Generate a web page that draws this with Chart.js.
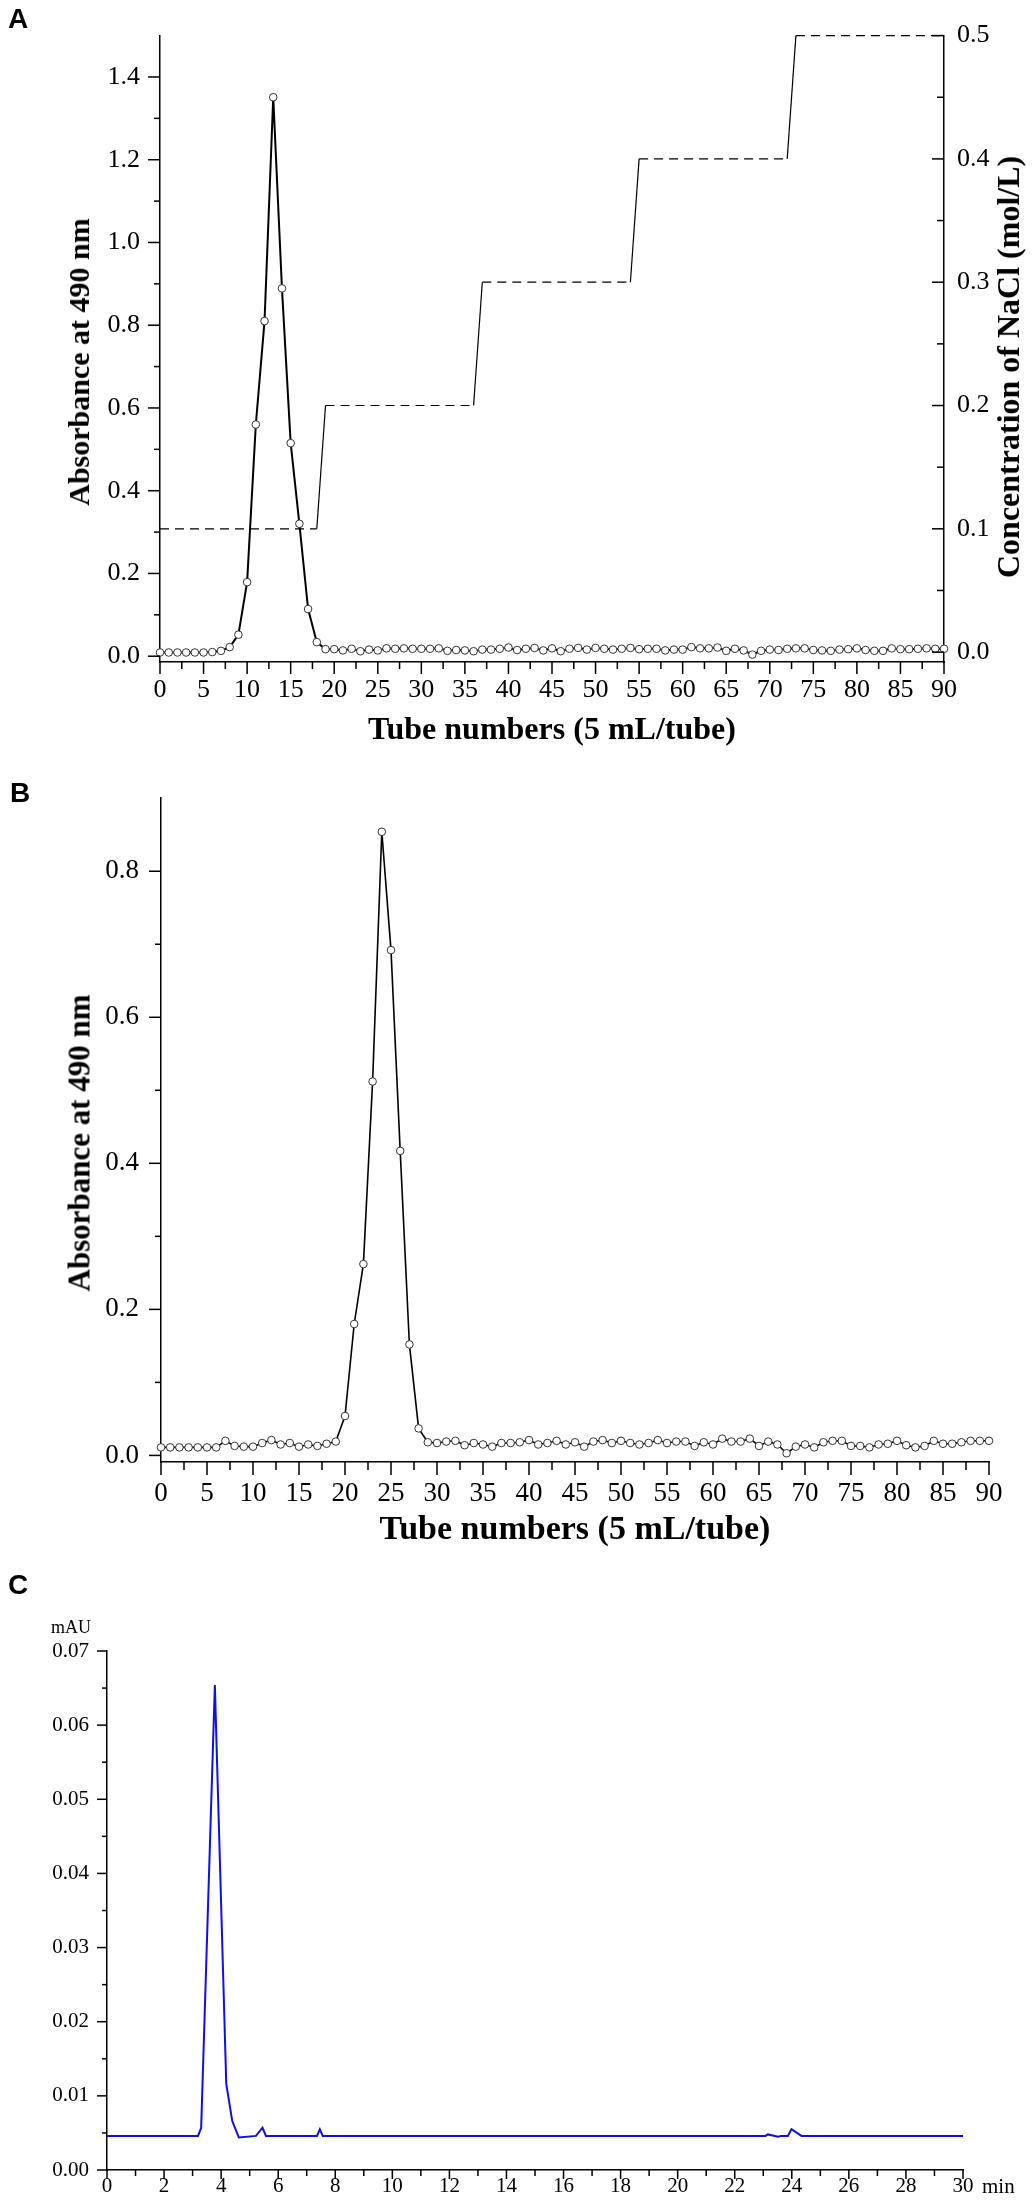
<!DOCTYPE html>
<html>
<head>
<meta charset="utf-8">
<script src="https://cdn.jsdelivr.net/npm/chart.js@4.4.1/dist/chart.umd.min.js"></script>
<style>
  html, body { margin: 0; padding: 0; background: #fff; }
  #page { position: relative; width: 1034px; height: 2202px; overflow: hidden; background: #fff; }
  .panel { position: absolute; left: 0; width: 1034px; }
  .letter { position: absolute; font: bold 28px 'Liberation Sans', Arial, sans-serif; line-height: 1; color: #000; }
  .vtitle { position: absolute; font-family: 'Liberation Serif', 'Times New Roman', serif; font-weight: bold; white-space: nowrap;
            transform: translate(-50%, -50%) rotate(-90deg); color: #000; line-height: 1; }
  .small { position: absolute; font: 21px 'Liberation Serif', 'Times New Roman', serif; color: #000; line-height: 1; white-space: nowrap; }
</style>
</head>
<body>
<div id="page">
  <div class="panel" style="top:0;height:760px;"><canvas id="cA"></canvas></div>
  <div class="panel" style="top:760px;height:800px;"><canvas id="cB"></canvas></div>
  <div class="panel" style="top:1560px;height:642px;"><canvas id="cC"></canvas></div>
  <div class="letter" style="left:8px;top:5px;">A</div>
  <div class="letter" style="left:10px;top:779px;">B</div>
  <div class="letter" style="left:8px;top:1571px;">C</div>
  <div class="vtitle" style="left:79px;top:362px;font-size:30px;">Absorbance at 490 nm</div>
  <div class="vtitle" style="left:1008px;top:367px;font-size:32px;">Concentration of NaCl (mol/L)</div>
  <div class="vtitle" style="left:79px;top:1143px;font-size:31px;">Absorbance at 490 nm</div>
  <div class="small" style="left:51px;top:1618px;font-size:18px;">mAU</div>
  <div class="small" style="left:982px;top:2176px;">min</div>
</div>
<script>
// ---------------- DATA ----------------
const tubes = [0,1,2,3,4,5,6,7,8,9,10,11,12,13,14,15,16,17,18,19,20,21,22,23,24,25,26,27,28,29,30,
  31,32,33,34,35,36,37,38,39,40,41,42,43,44,45,46,47,48,49,50,51,52,53,54,55,56,57,58,59,60,
  61,62,63,64,65,66,67,68,69,70,71,72,73,74,75,76,77,78,79,80,81,82,83,84,85,86,87,88,89,90];

const absorbanceA = [0.009,0.009,0.009,0.009,0.009,0.009,0.010,0.013,0.022,0.052,
  0.179,0.560,0.810,1.351,0.889,0.515,0.320,0.114,0.034,0.017,
  0.017,0.014,0.018,0.012,0.016,0.014,0.019,0.018,0.019,0.018,
  0.018,0.018,0.019,0.013,0.015,0.014,0.012,0.016,0.016,0.018,
  0.021,0.015,0.018,0.020,0.014,0.019,0.012,0.018,0.020,0.016,
  0.020,0.018,0.016,0.018,0.020,0.017,0.018,0.018,0.014,0.016,
  0.016,0.022,0.019,0.019,0.021,0.013,0.018,0.014,0.004,0.013,
  0.016,0.015,0.018,0.019,0.019,0.015,0.014,0.013,0.016,0.017,
  0.019,0.015,0.013,0.013,0.019,0.017,0.017,0.018,0.019,0.018,0.018];

const naclTube = [0, 18, 19, 36, 37, 54, 55, 72, 73, 90];
const naclConc = [0.1, 0.1, 0.2, 0.2, 0.3, 0.3, 0.4, 0.4, 0.5, 0.5];

const absorbanceB = [0.011,0.011,0.011,0.011,0.011,0.011,0.011,0.020,0.013,0.012,
  0.012,0.017,0.021,0.015,0.017,0.012,0.015,0.013,0.016,0.019,
  0.054,0.180,0.262,0.512,0.854,0.692,0.417,0.152,0.037,0.018,
  0.017,0.019,0.020,0.014,0.017,0.015,0.012,0.017,0.017,0.018,
  0.021,0.015,0.017,0.020,0.015,0.018,0.012,0.019,0.021,0.017,
  0.020,0.017,0.015,0.017,0.021,0.017,0.019,0.019,0.013,0.018,
  0.015,0.023,0.019,0.019,0.023,0.013,0.019,0.015,0.003,0.012,
  0.015,0.011,0.018,0.020,0.020,0.013,0.013,0.011,0.015,0.016,
  0.020,0.014,0.011,0.013,0.020,0.016,0.016,0.018,0.020,0.020,0.020];

const hplcTime   = [0, 3.19, 3.30, 3.78, 4.18, 4.39, 4.62, 5.22, 5.45, 5.57, 7.36, 7.46, 7.56,
                    23.08, 23.16, 23.52, 23.62, 23.86, 23.99, 24.34, 30];
const hplcSignal = [0.0046, 0.0046, 0.0057, 0.0654, 0.0116, 0.0066, 0.0044, 0.0046, 0.0057, 0.0046, 0.0046, 0.0055, 0.0046,
                    0.0046, 0.0048, 0.0045, 0.0046, 0.0046, 0.0055, 0.0046, 0.0046];

// tick labels
const tubeTicks   = [0,5,10,15,20,25,30,35,40,45,50,55,60,65,70,75,80,85,90];
const absTicksA   = [0.0,0.2,0.4,0.6,0.8,1.0,1.2,1.4];
const naclTicks   = [0.0,0.1,0.2,0.3,0.4,0.5];
const absTicksB   = [0.0,0.2,0.4,0.6,0.8];
const timeTicks   = [0,2,4,6,8,10,12,14,16,18,20,22,24,26,28,30];
const mauTicks    = [0.00,0.01,0.02,0.03,0.04,0.05,0.06,0.07];

// ---------------- HELPERS ----------------
const SERIF = "'Liberation Serif', 'Times New Roman', serif";
const mids = arr => arr.slice(0, -1).map((v, i) => (v + arr[i + 1]) / 2);
const pts = (xs, ys) => xs.map((x, i) => ({ x: x, y: ys[i] }));
const serif = (size, weight) => ({ family: SERIF, size: size, weight: weight || 'normal', style: 'normal', lineHeight: 1.2 });

function makeTicks(marks) {
  return {
    id: 'tickMarks',
    afterDraw(chart) {
      const ctx = chart.ctx, a = chart.chartArea;
      ctx.save();
      ctx.strokeStyle = '#000';
      ctx.lineWidth = 1.5;
      marks.forEach(m => {
        const s = chart.scales[m.scale];
        [[m.major, m.majorLen], [m.minor, m.minorLen]].forEach(([vals, len]) => {
          vals.forEach(v => {
            const p = s.getPixelForValue(v);
            ctx.beginPath();
            if (m.side === 'bottom') { ctx.moveTo(p, a.bottom); ctx.lineTo(p, a.bottom + len); }
            else if (m.side === 'left') { ctx.moveTo(a.left, p); ctx.lineTo(a.left - len, p); }
            else { ctx.moveTo(a.right, p); ctx.lineTo(a.right - len, p); }
            ctx.stroke();
          });
        });
      });
      ctx.restore();
    }
  };
}

function setTicks(values) {
  return s => { s.ticks = values.map(v => ({ value: v })); };
}

const baseGrid = { display: true, drawOnChartArea: false, drawTicks: false };
const baseBorder = { display: true, color: '#000', width: 1.5 };

Chart.defaults.font.family = SERIF;
Chart.defaults.color = '#000';

// ---------------- PANEL A ----------------
new Chart(document.getElementById('cA'), {
  type: 'line',
  data: {
    datasets: [
      {
        data: pts(tubes, absorbanceA), yAxisID: 'y', xAxisID: 'x',
        borderColor: '#000', borderWidth: 2, tension: 0,
        pointRadius: 3.8, pointBackgroundColor: '#fff', pointBorderColor: '#333', pointBorderWidth: 1,
        clip: false, order: 0
      },
      {
        data: pts(naclTube, naclConc), yAxisID: 'y1', xAxisID: 'x',
        borderColor: '#000', borderWidth: 1.2, pointRadius: 0, tension: 0, order: 1, clip: false,
        segment: { borderDash: c => (c.p0.parsed.y === c.p1.parsed.y ? [9, 6] : []) }
      }
    ]
  },
  options: {
    responsive: true, maintainAspectRatio: false, animation: false,
    layout: { padding: { left: 0, right: 0, top: 23, bottom: 0 } },
    plugins: { legend: { display: false }, tooltip: { enabled: false } },
    scales: {
      x: {
        type: 'linear', position: 'bottom', min: 0, max: 90,
        afterBuildTicks: setTicks(tubeTicks),
        afterFit: s => { s.height = 98; },
        grid: baseGrid, border: baseBorder,
        ticks: { autoSkip: false, maxRotation: 0, padding: 13, color: '#000', font: serif(26), callback: v => String(v) },
        title: { display: true, text: 'Tube numbers (5 mL/tube)', color: '#000', font: serif(32, 'bold'), padding: { top: 0, bottom: 10 } }
      },
      y: {
        type: 'linear', position: 'left', min: -0.014, max: 1.5,
        afterBuildTicks: setTicks(absTicksA),
        afterFit: s => { s.width = 160; },
        grid: baseGrid, border: baseBorder,
        ticks: { padding: 20, color: '#000', font: serif(26), callback: v => v.toFixed(1) }
      },
      y1: {
        type: 'linear', position: 'right', min: -0.008, max: 0.5,
        afterBuildTicks: setTicks(naclTicks),
        afterFit: s => { s.width = 90; },
        grid: baseGrid, border: baseBorder,
        ticks: { padding: 13, color: '#000', font: serif(26), callback: v => v.toFixed(1) }
      }
    }
  },
  plugins: [makeTicks([
    { scale: 'x', side: 'bottom', major: tubeTicks, minor: mids(tubeTicks), majorLen: 12, minorLen: 7 },
    { scale: 'y', side: 'left', major: absTicksA, minor: mids(absTicksA), majorLen: 12, minorLen: 6 },
    { scale: 'y1', side: 'rightIn', major: naclTicks, minor: mids(naclTicks), majorLen: 12, minorLen: 7 }
  ])]
});

// ---------------- PANEL B ----------------
new Chart(document.getElementById('cB'), {
  type: 'line',
  data: {
    datasets: [{
      data: pts(tubes, absorbanceB),
      borderColor: '#000', borderWidth: 1.6, tension: 0,
      pointRadius: 3.8, pointBackgroundColor: '#fff', pointBorderColor: '#333', pointBorderWidth: 1,
      clip: false
    }]
  },
  options: {
    responsive: true, maintainAspectRatio: false, animation: false,
    layout: { padding: { left: 0, right: 45, top: 30, bottom: 0 } },
    plugins: { legend: { display: false }, tooltip: { enabled: false } },
    scales: {
      x: {
        type: 'linear', position: 'bottom', min: 0, max: 90,
        afterBuildTicks: setTicks(tubeTicks),
        afterFit: s => { s.height = 98; },
        grid: baseGrid, border: baseBorder,
        ticks: { autoSkip: false, maxRotation: 0, padding: 16, color: '#000', font: serif(27), callback: v => String(v) },
        title: { display: true, text: 'Tube numbers (5 mL/tube)', color: '#000', font: serif(34, 'bold'), padding: { top: 0, bottom: 9 } }
      },
      y: {
        type: 'linear', position: 'left', min: -0.009, max: 0.9,
        afterBuildTicks: setTicks(absTicksB),
        afterFit: s => { s.width = 161; },
        grid: baseGrid, border: baseBorder,
        ticks: { padding: 22, color: '#000', font: serif(27), callback: v => v.toFixed(1) }
      }
    }
  },
  plugins: [makeTicks([
    { scale: 'x', side: 'bottom', major: tubeTicks, minor: mids(tubeTicks), majorLen: 13, minorLen: 8 },
    { scale: 'y', side: 'left', major: absTicksB, minor: mids(absTicksB), majorLen: 12, minorLen: 6 }
  ])]
});

// ---------------- PANEL C ----------------
new Chart(document.getElementById('cC'), {
  type: 'line',
  data: {
    datasets: [{
      data: pts(hplcTime, hplcSignal),
      borderColor: '#1010e6', borderWidth: 2, tension: 0, pointRadius: 0
    }]
  },
  options: {
    responsive: true, maintainAspectRatio: false, animation: false,
    layout: { padding: { left: 0, right: 71, top: 91, bottom: 0 } },
    plugins: { legend: { display: false }, tooltip: { enabled: false } },
    scales: {
      x: {
        type: 'linear', position: 'bottom', min: 0, max: 30,
        afterBuildTicks: setTicks(timeTicks),
        afterFit: s => { s.height = 32; },
        grid: baseGrid, border: baseBorder,
        ticks: { autoSkip: false, maxRotation: 0, padding: 4, color: '#000', font: serif(21), callback: v => String(v) }
      },
      y: {
        type: 'linear', position: 'left', min: 0, max: 0.07,
        afterBuildTicks: setTicks(mauTicks),
        afterFit: s => { s.width = 107; },
        grid: baseGrid, border: baseBorder,
        ticks: { padding: 18, color: '#000', font: serif(21), callback: v => v.toFixed(2) }
      }
    }
  },
  plugins: [makeTicks([
    { scale: 'x', side: 'bottom', major: timeTicks, minor: mids(timeTicks), majorLen: 9, minorLen: 6 },
    { scale: 'y', side: 'left', major: mauTicks, minor: mids(mauTicks), majorLen: 10, minorLen: 5 }
  ])]
});
</script>
</body>
</html>
